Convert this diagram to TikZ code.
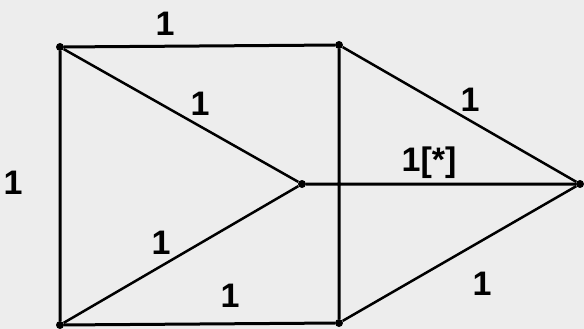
\documentclass[tikz,border=0pt]{standalone}
\usepackage{fontspec}
\setmainfont{Liberation Sans}
\usepackage{tikz}

\begin{document}
\begin{tikzpicture}[x=1pt, y=-1pt, every node/.style={font=\bfseries\fontsize{34}{36}\selectfont},
	vertex/.style={circle, fill=black, inner sep=0pt, minimum size=8pt},
	edge/.style={line width=3pt}]
	\fill[black!7] (0,0) rectangle (584,329);
	\useasboundingbox (0,0) rectangle (584,329);
	\node[vertex] (tl) at (60,47) {};
	\node[vertex] (tm) at (339,45) {};
	\node[vertex] (c) at (302,184) {};
	\node[vertex] (r) at (580,184) {};
	\node[vertex] (bl) at (60,325) {};
	\node[vertex] (bm) at (339,323) {};
	\draw[edge] (tl) -- (tm) (tl) -- (bl) (bl) -- (bm) (tm) -- (bm) (c) -- (r);
	\draw[edge, line width=2.5pt] (tl) -- (c) (bl) -- (c) (tm) -- (r) (bm) -- (r);
	\node (l1) at (165,24) {1};
	\node (l2) at (13,183) {1};
	\node (l3) at (200,104) {1};
	\node (l4) at (161,243) {1};
	\node (l5) at (230,296) {1};
	\node (l6) at (470,100) {1};
	\node (l7) at (429,163) {1{[}*{]}};
	\node (l8) at (482,284) {1};
\end{tikzpicture}
\end{document}
